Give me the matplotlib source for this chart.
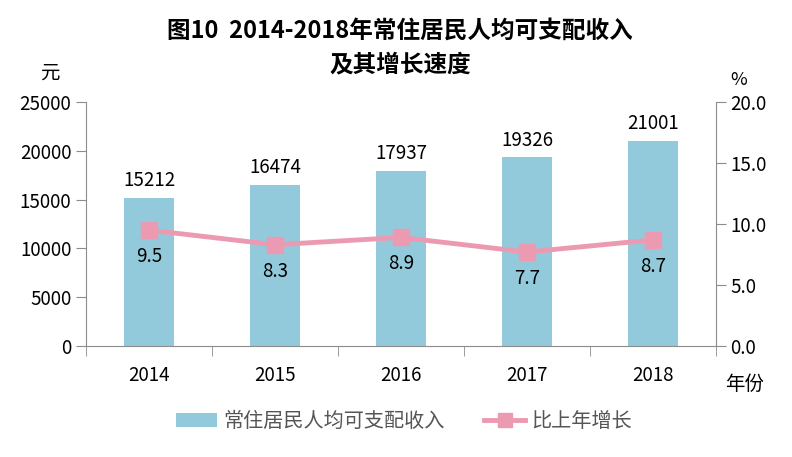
import matplotlib
matplotlib.use("Agg")
import matplotlib.pyplot as plt
from matplotlib.lines import Line2D
from matplotlib.patches import Patch

plt.rcParams['font.family'] = ['Noto Sans CJK SC', 'DejaVu Sans']

years = ["2014", "2015", "2016", "2017", "2018"]
income = [15212, 16474, 17937, 19326, 21001]
growth = [9.5, 8.3, 8.9, 7.7, 8.7]

BAR_COLOR = "#93cadb"
LINE_COLOR = "#ec9ab2"
AXIS_COLOR = "#8c8c8c"

fig = plt.figure(figsize=(7.92, 4.57), dpi=100)
ax = fig.add_axes([0.1086, 0.2429, 0.7954, 0.5339])
ax2 = ax.twinx()

x = range(len(years))
ax.bar(x, income, width=0.4, color=BAR_COLOR, zorder=2)
for xi, v in zip(x, income):
    ax.text(xi, v + 700, str(v), ha="center", va="bottom", fontsize=13.5)

ax2.plot(x, growth, color=LINE_COLOR, linewidth=3.5, marker="s",
         markersize=11, zorder=3)
for xi, v in zip(x, growth):
    ax2.text(xi, v - 1.3, f"{v:.1f}", ha="center", va="top", fontsize=13.5)

ax.set_xlim(-0.5, 4.5)
ax.set_ylim(0, 25000)
ax.set_yticks(range(0, 25001, 5000))
ax2.set_ylim(0, 20)
ax2.set_yticks([0, 5, 10, 15, 20])
ax2.set_yticklabels([f"{t:.1f}" for t in [0, 5, 10, 15, 20]])

ax.set_xticks(list(x))
ax.set_xticklabels(years)
ax.set_xticks([i - 0.5 for i in range(6)], minor=True)
ax.tick_params(axis="x", which="major", length=0, labelsize=13.5, pad=14)
ax.tick_params(axis="x", which="minor", length=7, color=AXIS_COLOR)
ax.tick_params(axis="y", length=7, color=AXIS_COLOR, labelsize=13.5)
ax2.tick_params(axis="y", length=7, color=AXIS_COLOR, labelsize=13.5)

for a in (ax, ax2):
    for s in a.spines.values():
        s.set_visible(False)
ax.spines["left"].set_visible(True)
ax.spines["left"].set_color(AXIS_COLOR)
ax.spines["bottom"].set_visible(True)
ax.spines["bottom"].set_color(AXIS_COLOR)
ax2.spines["right"].set_visible(True)
ax2.spines["right"].set_color(AXIS_COLOR)

fig.text(0.505, 0.932, "图10  2014-2018年常住居民人均可支配收入",
         ha="center", va="center", fontsize=17, fontweight="bold")
fig.text(0.505, 0.858, "及其增长速度", ha="center", va="center",
         fontsize=17, fontweight="bold")
fig.text(0.063, 0.84, "元", ha="center", va="center", fontsize=14)
fig.text(0.932, 0.825, "%", ha="center", va="center", fontsize=13)
fig.text(0.94, 0.158, "年份", ha="center", va="center", fontsize=14)

handles = [Patch(facecolor=BAR_COLOR),
           Line2D([0], [0], color=LINE_COLOR, linewidth=3.5, marker="s",
                  markersize=10)]
fig.legend(handles, ["常住居民人均可支配收入", "比上年增长"],
           loc="center", bbox_to_anchor=(0.51, 0.078), ncol=2, frameon=False,
           fontsize=14.5, handlelength=2.0, columnspacing=2.0,
           handletextpad=0.3, labelcolor="#555555")

fig.savefig("out.png", dpi=100)
